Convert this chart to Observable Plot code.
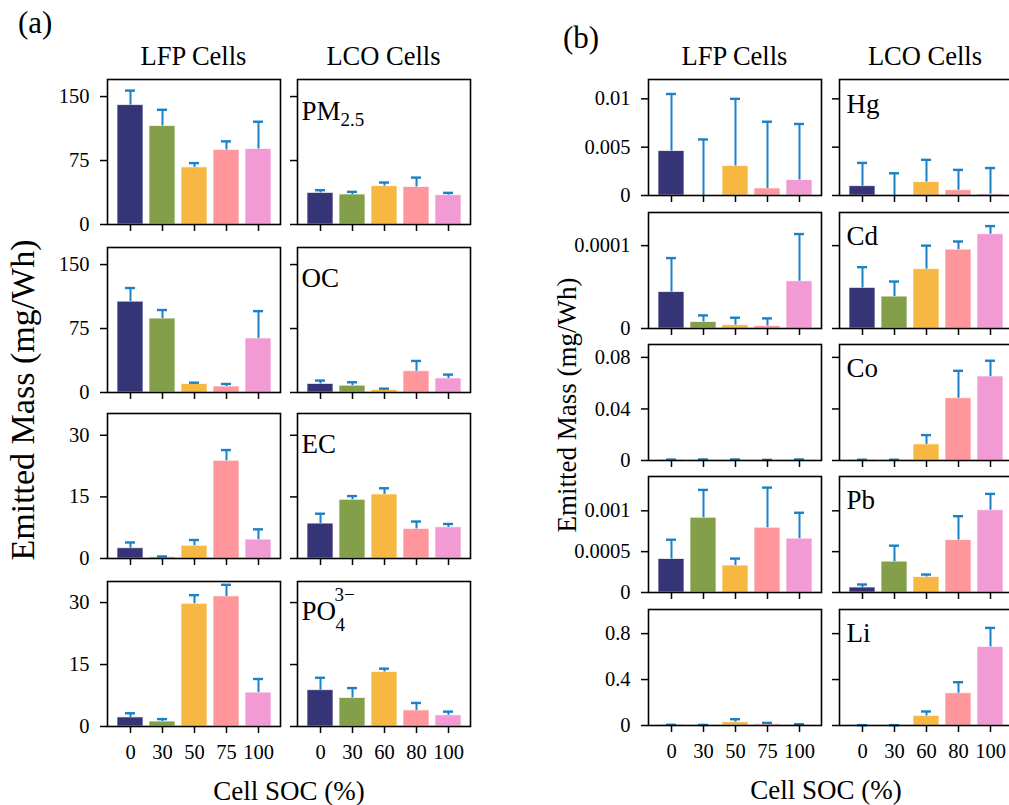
<!DOCTYPE html>
<html><head><meta charset="utf-8">
<script src="https://cdn.jsdelivr.net/npm/d3@7"></script>
<script src="https://cdn.jsdelivr.net/npm/@observablehq/plot@0.6"></script>
<style>
html,body{margin:0;padding:0;background:#fff;overflow:hidden;}
#wrap{position:relative;width:1009px;height:805px;overflow:hidden;font-family:"Liberation Serif",serif;}
#wrap svg{position:absolute;}
</style></head><body><div id="wrap"></div>
<script>
// ---------- categories ----------
const socLFP = ["0", "30", "50", "75", "100"];
const socLCO = ["0", "30", "60", "80", "100"];
const barColors = ["#353477", "#849f49", "#f6b843", "#fe969b", "#f19ad4"];
const errColor = "#1b80c4";

// ---------- (a) values (mg/Wh) and upper error ----------
const pm25LFP = [140, 115.5, 67, 87.5, 88.5];
const pm25LFPErr = [17, 19, 5, 10, 32];
const pm25LCO = [37, 35.2, 45, 44, 34.4];
const pm25LCOErr = [3.2, 3.1, 4.2, 11, 2.7];
const ocLFP = [106.5, 86.7, 10, 7, 63.4];
const ocLFPErr = [16, 10, 1.5, 3, 32];
const ocLCO = [10, 8, 3, 25, 16.5];
const ocLCOErr = [4, 4, 1.5, 12, 4.5];
const ecLFP = [2.5, 0.3, 3.1, 23.8, 4.6];
const ecLFPErr = [1.4, 0.2, 1.4, 2.6, 2.5];
const ecLCO = [8.5, 14.3, 15.6, 7.2, 7.6];
const ecLCOErr = [2.4, 0.9, 1.5, 1.8, 0.8];
const po4LFP = [2.2, 1.2, 29.7, 31.5, 8.2];
const po4LFPErr = [1.0, 0.6, 2.1, 2.8, 3.3];
const po4LCO = [8.8, 6.9, 13.2, 3.9, 2.7];
const po4LCOErr = [3.0, 2.4, 0.8, 1.8, 0.9];

// ---------- (b) values (mg/Wh) and upper error ----------
const hgLFP = [0.0046, 0, 0.00305, 0.00073, 0.0016];
const hgLFPErr = [0.0059, 0.0058, 0.00695, 0.0069, 0.0058];
const hgLCO = [0.00097, 0, 0.00139, 0.00055, 0.00014];
const hgLCOErr = [0.0024, 0.0023, 0.0023, 0.0021, 0.0027];
const cdLFP = [4.4e-5, 7.8e-6, 4.1e-6, 2.9e-6, 5.7e-5];
const cdLFPErr = [4.1e-5, 8e-6, 8.9e-6, 9.3e-6, 5.7e-5];
const cdLCO = [4.9e-5, 3.85e-5, 7.17e-5, 9.52e-5, 1.138e-4];
const cdLCOErr = [2.5e-5, 1.82e-5, 2.83e-5, 9.8e-6, 9.8e-6];
const coLFP = [0.0002, 0.0002, 0.0002, 0.0001, 0.0002];
const coLFPErr = [0.0005, 0.0006, 0.0006, 0.0004, 0.0006];
const coLCO = [0.0002, 0.0002, 0.0125, 0.0483, 0.0652];
const coLCOErr = [0.0004, 0.0004, 0.0072, 0.0213, 0.0122];
const pbLFP = [0.00041, 0.000915, 0.00033, 0.000793, 0.000659];
const pbLFPErr = [0.000236, 0.000341, 0.000085, 0.000491, 0.000317];
const pbLCO = [0.000061, 0.000378, 0.00019, 0.000642, 0.001007];
const pbLCOErr = [0.000037, 0.000195, 0.00003, 0.000292, 0.0002];
const liLFP = [0.002, 0.002, 0.029, 0.011, 0.003];
const liLFPErr = [0.004, 0.003, 0.026, 0.012, 0.008];
const liLCO = [0.001, 0.001, 0.084, 0.281, 0.684];
const liLCOErr = [0.002, 0.002, 0.038, 0.096, 0.166];

// ---------- axis ticks ----------
const ticksPM = [0, 75, 150];
const ticksEC = [0, 15, 30];
const ticksHg = [0, 0.005, 0.01];
const ticksCd = [0, 0.0001];
const ticksCo = [0, 0.04, 0.08];
const ticksPb = [0, 0.0005, 0.001];
const ticksLi = [0, 0.4, 0.8];

// ---------- text ----------
const colTitles = ["LFP Cells", "LCO Cells"];
const yTitle = "Emitted Mass (mg/Wh)";
const xTitle = "Cell SOC (%)";

// ---------- layout ----------
const FONT = "'Liberation Serif', 'Times New Roman', serif";
const TICK_FS = 20.5, LABEL_FS = 26.5;
const mL = 90, mT = 6, mR = 6, mB = 50;
const wrap = document.getElementById("wrap");

const groupA = {
  cols: [107, 297], rows: [79, 247, 413, 581], w: 173, h: 145,
  panels: [
    {lfp: pm25LFP, lfpE: pm25LFPErr, lco: pm25LCO, lcoE: pm25LCOErr, ymax: 170, ticks: ticksPM,
     label: [{t: "PM", dx: 4, dy: 40, fs: 27}, {t: "2.5", dx: 43, dy: 46, fs: 19}]},
    {lfp: ocLFP, lfpE: ocLFPErr, lco: ocLCO, lcoE: ocLCOErr, ymax: 170, ticks: ticksPM,
     label: [{t: "OC", dx: 4, dy: 39, fs: 27}]},
    {lfp: ecLFP, lfpE: ecLFPErr, lco: ecLCO, lcoE: ecLCOErr, ymax: 35.3, ticks: ticksEC,
     label: [{t: "EC", dx: 4, dy: 39, fs: 27}]},
    {lfp: po4LFP, lfpE: po4LFPErr, lco: po4LCO, lcoE: po4LCOErr, ymax: 35.1, ticks: ticksEC,
     label: [{t: "PO", dx: 4, dy: 38, fs: 27}, {t: "4", dx: 38, dy: 49, fs: 19}, {t: "3\u2212", dx: 37, dy: 19, fs: 19}]}
  ]
};
const groupB = {
  cols: [648, 838.5], rows: [79, 211.7, 344, 476.3, 609], w: 173, h: 116,
  panels: [
    {lfp: hgLFP, lfpE: hgLFPErr, lco: hgLCO, lcoE: hgLCOErr, ymax: 0.012, ticks: ticksHg,
     label: [{t: "Hg", dx: 7, dy: 33, fs: 27}]},
    {lfp: cdLFP, lfpE: cdLFPErr, lco: cdLCO, lcoE: cdLCOErr, ymax: 0.00014, ticks: ticksCd,
     label: [{t: "Cd", dx: 7, dy: 32, fs: 27}]},
    {lfp: coLFP, lfpE: coLFPErr, lco: coLCO, lcoE: coLCOErr, ymax: 0.09, ticks: ticksCo,
     label: [{t: "Co", dx: 7, dy: 32, fs: 27}]},
    {lfp: pbLFP, lfpE: pbLFPErr, lco: pbLCO, lcoE: pbLCOErr, ymax: 0.00142, ticks: ticksPb,
     label: [{t: "Pb", dx: 7, dy: 32, fs: 27}]},
    {lfp: liLFP, lfpE: liLFPErr, lco: liLCO, lcoE: liLCOErr, ymax: 1.01, ticks: ticksLi,
     label: [{t: "Li", dx: 7, dy: 32, fs: 27}]}
  ]
};

function panel({soc, vals, errs, ymax, ticks, showY, showX, label, left, top, w, h}) {
  const data = soc.map((s, i) => ({soc: s, v: vals[i], top: vals[i] + errs[i]}));
  const marks = [
    Plot.barY(data, {x: "soc", y: "v", fill: "soc", stroke: "white", strokeWidth: 1, strokeOpacity: 0.7}),
    Plot.ruleX(data, {x: "soc", y1: "v", y2: "top", stroke: errColor, strokeWidth: 2}),
    Plot.tickY(data, {x: "soc", y: "top", stroke: errColor, strokeWidth: 2.4, insetLeft: 8, insetRight: 8}),
    Plot.frame({stroke: "black", strokeWidth: 1.6}),
    Plot.axisY(ticks, {label: null, tickSize: 7, tickPadding: 11, strokeWidth: 1.5,
      fontSize: TICK_FS, tickFormat: showY ? (d => String(d)) : (() => "")}),
    Plot.axisX({label: null, tickSize: 7, tickPadding: 11, strokeWidth: 1.5,
      fontSize: TICK_FS, tickFormat: showX ? (d => d) : (() => "")})
  ];
  if (label) for (const p of label) {
    marks.push(Plot.text([p.t], {text: d => d, frameAnchor: "top-left", textAnchor: "start",
      lineAnchor: "bottom", dx: p.dx, dy: p.dy, fontSize: p.fs, fill: "black"}));
  }
  const svg = Plot.plot({
    width: mL + w + mR, height: mT + h + mB,
    marginLeft: mL, marginTop: mT, marginRight: mR, marginBottom: mB,
    style: {background: "transparent", fontFamily: FONT, fontSize: TICK_FS + "px", color: "black", overflow: "visible", maxWidth: "none"},
    x: {type: "band", domain: soc, paddingInner: 0.2, paddingOuter: 0.24},
    y: {domain: [0, ymax]},
    color: {domain: soc, range: barColors},
    marks
  });
  svg.style.left = (left - mL) + "px";
  svg.style.top = (top - mT) + "px";
  wrap.appendChild(svg);
}

for (const g of [groupA, groupB]) {
  g.panels.forEach((p, r) => {
    const last = r === g.panels.length - 1;
    panel({soc: socLFP, vals: p.lfp, errs: p.lfpE, ymax: p.ymax, ticks: p.ticks, showY: true, showX: last,
      label: null, left: g.cols[0], top: g.rows[r], w: g.w, h: g.h});
    panel({soc: socLCO, vals: p.lco, errs: p.lcoE, ymax: p.ymax, ticks: p.ticks, showY: false, showX: last,
      label: p.label, left: g.cols[1], top: g.rows[r], w: g.w, h: g.h});
  });
}

// ---------- titles overlay ----------
const ov = d3.create("svg").attr("width", 1009).attr("height", 805)
  .style("left", "0px").style("top", "0px").style("pointer-events", "none")
  .style("font-family", FONT).style("overflow", "visible");
const txt = (s, x, y, fs, anchor = "middle", rot = 0) =>
  ov.append("text").attr("x", x).attr("y", y).attr("font-size", fs).attr("text-anchor", anchor)
    .attr("fill", "black")
    .attr("transform", rot ? `rotate(${rot},${x},${y})` : null).text(s);
txt("(a)", 18, 33, 31, "start");
txt("(b)", 563, 48, 31, "start");
for (const g of [groupA, groupB]) {
  g.cols.forEach((c, i) => txt(colTitles[i], c + g.w / 2, 65, LABEL_FS));
}
txt(yTitle, 34, 400, 34, "middle", -90);
txt(yTitle, 576, 405, 27, "middle", -90);
txt(xTitle, 289, 800, 27);
txt(xTitle, 826, 799, 27);
wrap.appendChild(ov.node());
</script></body></html>
